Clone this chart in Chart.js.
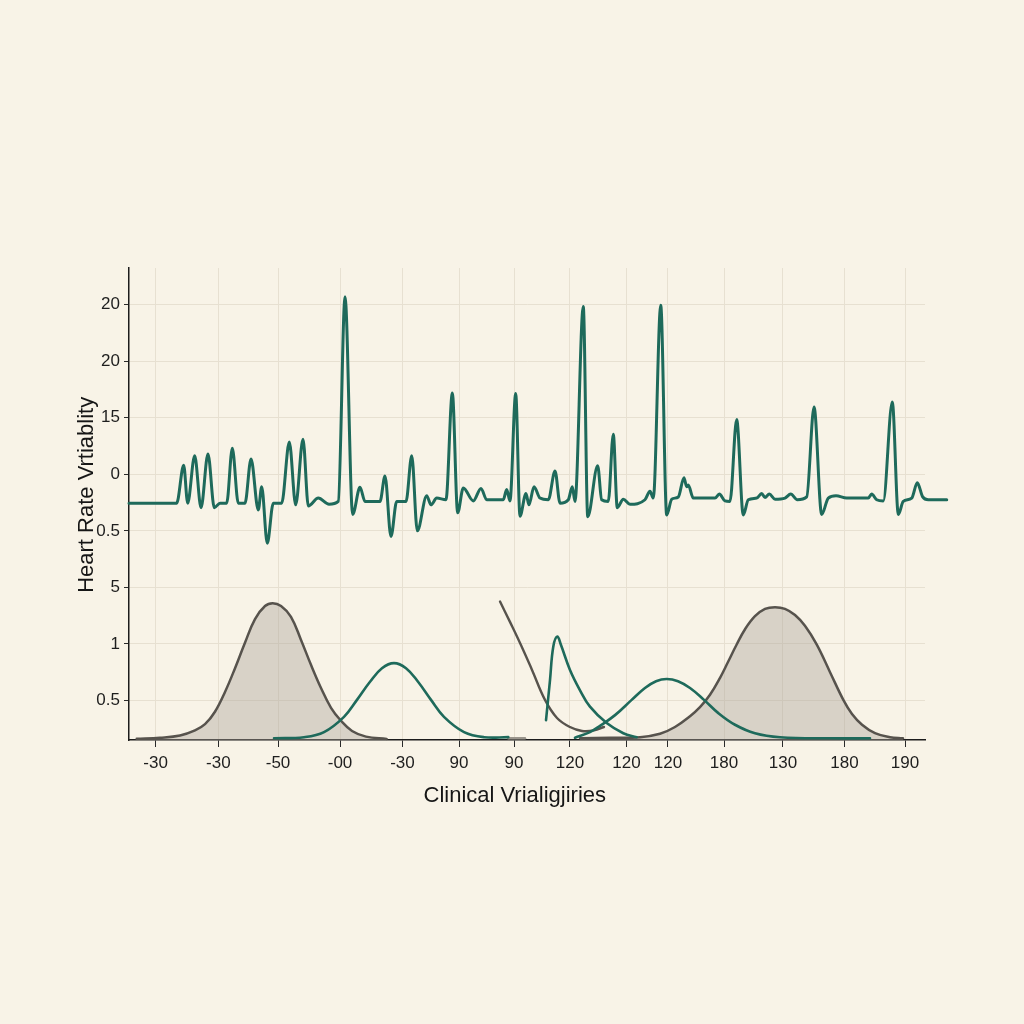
<!DOCTYPE html>
<html>
<head>
<meta charset="utf-8">
<script src="https://cdn.jsdelivr.net/npm/chart.js@4.4.1/dist/chart.umd.min.js"></script>
<style>
  html, body { margin: 0; padding: 0; background: #f8f3e7; }
  #wrap { width: 1024px; height: 1024px; }
  canvas { display: block; }
</style>
</head>
<body>
<div id="wrap"><canvas id="c" width="1024" height="1024"></canvas></div>
<script>
// ---- Axis tick labels (as printed) ----
const xTickValues = [3.34, 11.22, 18.72, 26.51, 34.35, 41.46, 48.37, 55.40, 62.50, 67.71, 74.75, 82.16, 89.89, 97.49];
const xTickLabels = ['-30', '-30', '-50', '-00', '-30', '90', '90', '120', '120', '120', '180', '130', '180', '190'];
const yTickValues = [1, 2, 3, 4, 5, 6, 7, 8];
const yTickLabels = ['0.5', '1', '5', '0.5', '0', '15', '20', '20'];
const xRange = [0, 100];
const yRange = [0.3, 8.65];

// ---- ECG trace ----
const ecgTime = [0, 5.99, 6.87, 7.37, 8.25, 9.05, 9.92, 10.72, 11.43, 12.27, 12.98, 13.73, 14.57, 15.33, 16.24, 16.67, 17.37, 18.13, 19.18, 20.14,
  20.94, 21.86, 22.53, 23.78, 25.13, 26.29, 27.14, 28.10, 29.02, 29.65, 31.53, 32.16, 32.91, 33.63, 34.80, 35.52, 36.22, 37.40, 37.94, 38.66,
  39.82, 40.62, 41.29, 42.00, 43.25, 44.22, 44.94, 47.02, 47.45, 47.86, 48.58, 49.12, 49.87, 50.25, 50.88, 51.63, 52.68, 53.52, 54.15, 55.19,
  55.69, 56.03, 57.07, 57.63, 58.88, 59.38, 60.21, 60.84, 61.34, 62.10, 62.94, 64.82, 65.45, 65.87, 66.80, 67.55, 68.18, 69.01, 69.72, 70.06,
  70.26, 70.89, 73.62, 74.16, 74.87, 75.50, 76.34, 77.17, 77.80, 78.86, 79.48, 79.90, 80.44, 81.16, 82.41, 83.13, 83.96, 85.14, 86.06, 87.02,
  87.85, 88.82, 90.16, 92.88, 93.30, 93.93, 94.76, 95.89, 96.65, 97.27, 98.33, 99.03, 99.71, 100.41, 102.73];
const ecgValue = [4.49, 4.49, 5.16, 4.49, 5.33, 4.41, 5.36, 4.41, 4.49, 4.49, 5.46, 4.49, 4.49, 5.27, 4.37, 4.78, 3.78, 4.49, 4.49, 5.57,
  4.46, 5.62, 4.44, 4.58, 4.47, 4.52, 8.14, 4.29, 4.77, 4.52, 4.52, 4.97, 3.90, 4.52, 4.52, 5.33, 4.00, 4.62, 4.46, 4.58,
  4.55, 6.44, 4.32, 4.76, 4.53, 4.75, 4.55, 4.55, 4.73, 4.53, 6.43, 4.26, 4.66, 4.46, 4.78, 4.58, 4.55, 5.06, 4.49, 4.55,
  4.78, 4.52, 7.97, 4.25, 5.15, 4.55, 4.52, 5.71, 4.41, 4.56, 4.47, 4.55, 4.70, 4.58, 7.99, 4.28, 4.56, 4.60, 4.94, 4.78,
  4.81, 4.58, 4.58, 4.65, 4.53, 4.52, 5.97, 4.28, 4.55, 4.58, 4.66, 4.59, 4.65, 4.56, 4.58, 4.65, 4.55, 4.60, 6.19, 4.29,
  4.58, 4.62, 4.58, 4.58, 4.65, 4.55, 4.53, 6.28, 4.29, 4.52, 4.58, 4.85, 4.60, 4.55, 4.55];

// ---- Distribution curves ----
const grayLeftX = [0.97, 3.89, 6.41, 8.29, 9.55, 10.80, 12.06, 13.32, 14.57, 15.83, 17.09, 18.05, 19.10, 20.35, 21.61, 22.86, 24.12, 25.38, 26.63, 28.02, 29.77, 32.37];
const grayLeftY = [0.32, 0.34, 0.38, 0.47, 0.58, 0.80, 1.15, 1.57, 2.02, 2.44, 2.67, 2.72, 2.67, 2.48, 2.07, 1.63, 1.22, 0.87, 0.64, 0.46, 0.36, 0.32];

const greenLeftX = [18.22, 21.98, 24.50, 27.01, 28.64, 30.28, 31.78, 33.29, 34.80, 36.31, 37.94, 39.57, 42.09, 44.60, 47.65];
const greenLeftY = [0.33, 0.35, 0.44, 0.71, 1.01, 1.33, 1.57, 1.66, 1.57, 1.33, 1.01, 0.71, 0.44, 0.35, 0.35];

const graySegX = [47.64, 49.75];
const graySegY = [0.33, 0.33];

const grayDropX = [46.61, 47.86, 49.21, 50.63, 52.26, 53.77, 55.40, 56.91, 58.42, 59.67];
const grayDropY = [2.75, 2.39, 1.99, 1.54, 1.01, 0.69, 0.53, 0.46, 0.47, 0.53];

const greenSkewX = [52.39, 52.89, 53.30, 53.81, 54.27, 55.40, 56.66, 57.91, 60.01, 62.10, 63.78];
const greenSkewY = [0.65, 1.36, 1.95, 2.13, 1.98, 1.54, 1.18, 0.89, 0.60, 0.42, 0.35];

const greenRightX = [56.03, 57.91, 59.17, 61.06, 63.15, 64.82, 66.21, 67.55, 68.97, 70.48, 72.24, 74.00, 76.13, 78.64, 81.78, 88.07, 93.09];
const greenRightY = [0.34, 0.44, 0.55, 0.74, 1.01, 1.22, 1.34, 1.38, 1.34, 1.22, 1.01, 0.78, 0.57, 0.42, 0.35, 0.33, 0.33];

const grayRightX = [56.66, 60.43, 64.20, 66.71, 68.59, 70.48, 71.73, 72.99, 74.25, 75.25, 76.34, 77.39, 78.64, 79.90, 81.16, 82.41, 83.67, 84.92, 86.39, 88.07, 89.74, 90.83, 92.09, 93.72, 95.60, 97.24];
const grayRightY = [0.33, 0.34, 0.35, 0.41, 0.53, 0.72, 0.88, 1.10, 1.40, 1.68, 1.99, 2.26, 2.49, 2.62, 2.65, 2.62, 2.51, 2.32, 1.99, 1.50, 1.01, 0.76, 0.57, 0.42, 0.35, 0.33];

const xTitle = 'Clinical Vrialigjiries';
const yTitle = 'Heart Rate Vrtiablity';

function pts(xs, ys) { return xs.map((x, i) => ({ x: x, y: ys[i] })); }

const TEAL = '#1e6a5b';
const GRAY = '#57534d';
const FILL = 'rgba(172, 165, 154, 0.42)';

const bgPlugin = {
  id: 'bg',
  beforeDraw(chart) {
    const ctx = chart.ctx;
    ctx.save();
    ctx.fillStyle = '#f8f3e7';
    ctx.fillRect(0, 0, chart.width, chart.height);
    ctx.restore();
  }
};

const ecgStyle = { pointRadius: 0, pointHoverRadius: 0, cubicInterpolationMode: 'monotone', borderJoinStyle: 'round', borderCapStyle: 'round' };
const curveStyle = { pointRadius: 0, pointHoverRadius: 0, tension: 0.4, borderJoinStyle: 'round', borderCapStyle: 'round' };

new Chart(document.getElementById('c'), {
  type: 'line',
  data: {
    datasets: [
      Object.assign({ label: 'ECG', data: pts(ecgTime, ecgValue), borderColor: TEAL, borderWidth: 3, fill: false, clip: false }, ecgStyle),
      Object.assign({ label: 'g1', data: pts(greenLeftX, greenLeftY), borderColor: TEAL, borderWidth: 2.6, fill: false }, curveStyle),
      Object.assign({ label: 'g2', data: pts(greenSkewX, greenSkewY), borderColor: TEAL, borderWidth: 2.6, fill: false }, curveStyle),
      Object.assign({ label: 'g3', data: pts(greenRightX, greenRightY), borderColor: TEAL, borderWidth: 2.6, fill: false }, curveStyle),
      Object.assign({ label: 'd1', data: pts(grayDropX, grayDropY), borderColor: GRAY, borderWidth: 2.4, fill: false }, curveStyle),
      Object.assign({ label: 's1', data: pts(graySegX, graySegY), borderColor: '#9a958c', borderWidth: 2.4, fill: false }, curveStyle),
      Object.assign({ label: 'n1', data: pts(grayLeftX, grayLeftY), borderColor: GRAY, borderWidth: 2.5, fill: 'start', backgroundColor: FILL }, curveStyle),
      Object.assign({ label: 'n2', data: pts(grayRightX, grayRightY), borderColor: GRAY, borderWidth: 2.5, fill: 'start', backgroundColor: FILL }, curveStyle)
    ]
  },
  options: {
    responsive: false,
    animation: false,
    devicePixelRatio: 1,
    layout: { padding: { left: 74, right: 99, top: 268, bottom: 204 } },
    plugins: { legend: { display: false }, tooltip: { enabled: false }, title: { display: false } },
    scales: {
      x: {
        type: 'linear',
        bounds: 'data',
        afterDataLimits: (s) => { s.min = xRange[0]; s.max = xRange[1]; },
        afterBuildTicks: (s) => { s.ticks = xTickValues.map(v => ({ value: v })); },
        afterFit: (s) => { s.height = 80; },
        grid: { color: '#e7e0d1', lineWidth: 1, tickColor: '#2a2a2a', tickLength: 7, drawOnChartArea: true },
        border: { color: '#1c1c1c', width: 1.5 },
        ticks: {
          autoSkip: false, maxRotation: 0, minRotation: 0, padding: 6,
          color: '#1e1e1e',
          font: { family: 'Liberation Sans, Arial, sans-serif', size: 17 },
          callback: (v, i) => xTickLabels[i]
        },
        title: {
          display: true, text: xTitle + '    ', color: '#161616',
          font: { family: 'Liberation Sans, Arial, sans-serif', size: 22 },
          padding: { top: 4, bottom: 11 }
        }
      },
      y: {
        type: 'linear',
        bounds: 'data',
        afterDataLimits: (s) => { s.min = yRange[0]; s.max = yRange[1]; },
        afterBuildTicks: (s) => { s.ticks = yTickValues.map(v => ({ value: v })); },
        afterFit: (s) => { s.width = 55; },
        grid: { color: '#e7e0d1', lineWidth: 1, tickColor: '#2a2a2a', tickLength: 5 },
        border: { color: '#1c1c1c', width: 1.5 },
        ticks: {
          padding: 4, color: '#1e1e1e',
          font: { family: 'Liberation Sans, Arial, sans-serif', size: 17 },
          callback: (v, i) => yTickLabels[i]
        },
        title: {
          display: true, text: '   ' + yTitle, color: '#161616',
          font: { family: 'Liberation Sans, Arial, sans-serif', size: 22 },
          padding: { top: 0, bottom: 0 }
        }
      }
    }
  },
  plugins: [bgPlugin]
});
</script>
</body>
</html>
